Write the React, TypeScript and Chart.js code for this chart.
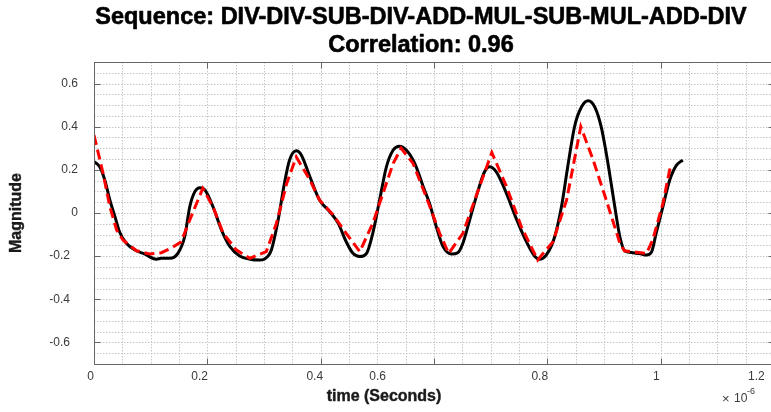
import React, { useEffect, useRef } from "react";
import { Chart, registerables } from "chart.js";

Chart.register(...registerables);

const titleLines = ["Sequence: DIV-DIV-SUB-DIV-ADD-MUL-SUB-MUL-ADD-DIV", "Correlation: 0.96"];
const xAxisTitle = "time (Seconds)";
const yAxisTitle = "Magnitude";
const xExponentBase = "10";
const xExponent = "-6";

// black solid curve (time in 1e-6 s)
const measuredX = [
  0, 0.010, 0.019, 0.028, 0.037, 0.045, 0.057, 0.075, 0.089, 0.110, 0.119, 0.134, 0.148, 0.160, 0.169,
  0.178, 0.187, 0.196, 0.210, 0.225, 0.240, 0.257, 0.275, 0.292, 0.301, 0.313, 0.325, 0.336, 0.345, 0.357,
  0.366, 0.381, 0.398, 0.416, 0.431, 0.445, 0.457, 0.469, 0.481, 0.492, 0.504, 0.516, 0.528, 0.539, 0.551,
  0.566, 0.581, 0.592, 0.604, 0.616, 0.631, 0.642, 0.651, 0.663, 0.678, 0.689, 0.698, 0.710, 0.728, 0.745,
  0.763, 0.778, 0.786, 0.798, 0.813, 0.825, 0.836, 0.848, 0.860, 0.872, 0.884, 0.895, 0.907, 0.919, 0.928,
  0.937, 0.951, 0.966, 0.975, 0.984, 0.992, 1.004, 1.016, 1.028, 1.039,
];
const measuredY = [
  0.238, 0.214, 0.153, 0.060, -0.017, -0.087, -0.140, -0.175, -0.190, -0.214, -0.210, -0.210, -0.187, -0.110, 0.029,
  0.099, 0.117, 0.106, 0.029, -0.079, -0.156, -0.199, -0.214, -0.218, -0.213, -0.171, -0.032, 0.137, 0.245, 0.288,
  0.268, 0.168, 0.060, 0.006, -0.048, -0.133, -0.187, -0.202, -0.187, -0.094, 0.060, 0.214, 0.292, 0.310, 0.292,
  0.230, 0.122, 0.045, -0.063, -0.156, -0.190, -0.184, -0.140, -0.032, 0.106, 0.190, 0.214, 0.190, 0.090, -0.025,
  -0.133, -0.202, -0.214, -0.195, -0.110, 0.030, 0.214, 0.400, 0.490, 0.520, 0.490, 0.400, 0.230, 0.030, -0.110,
  -0.176, -0.184, -0.190, -0.195, -0.180, -0.094, 0.030, 0.153, 0.222, 0.245,
];

// red dashed curve
const predictedX = [
  0, 0.016, 0.028, 0.040, 0.051, 0.075, 0.098, 0.119, 0.139, 0.154, 0.169, 0.192, 0.210, 0.228, 0.251,
  0.275, 0.304, 0.322, 0.340, 0.357, 0.381, 0.398, 0.422, 0.445, 0.469, 0.492, 0.510, 0.528, 0.542, 0.563,
  0.587, 0.610, 0.626, 0.651, 0.675, 0.702, 0.728, 0.754, 0.783, 0.810, 0.834, 0.859, 0.881, 0.904, 0.928,
  0.936, 0.957, 0.975, 0.986, 1.004, 1.017,
];
const predictedY = [
  0.361, 0.184, 0.029, -0.079, -0.125, -0.175, -0.190, -0.184, -0.159, -0.133, -0.032, 0.114, 0.029, -0.094, -0.171,
  -0.210, -0.179, -0.048, 0.137, 0.260, 0.153, 0.060, -0.009, -0.094, -0.179, -0.048, 0.091, 0.230, 0.300, 0.230,
  0.070, -0.094, -0.187, -0.094, 0.083, 0.280, 0.122, -0.063, -0.218, -0.133, 0.060, 0.400, 0.245, 0.060, -0.140,
  -0.175, -0.182, -0.187, -0.125, 0.045, 0.214,
];

const xMin = 0;
const xMax = 1.2;
const yMin = -0.7;
const yMax = 0.7;
const gridStep = 0.05;
const xTickValues = [0, 0.2, 0.4, 0.6, 0.8, 1.0, 1.2];
const xTickLabels = ["0", "0.2", "0.4", "0.6", "0.8", "1", "1.2"];
const xTickLabelAt = [-0.006, 0.1865, 0.3895, 0.5006, 0.7866, 0.9924, 1.169];
const yTickValues = [-0.6, -0.4, -0.2, 0, 0.2, 0.4, 0.6];
const yTickLabels = ["-0.6", "-0.4", "-0.2", "0", "0.2", "0.4", "0.6"];

const FONT = '"Liberation Sans", Arial, Helvetica, sans-serif';
const AXIS_COLOR = "#666666";
const TEXT_COLOR = "#3a3a3a";

function heavyText(ctx: CanvasRenderingContext2D, text: string, x: number, y: number, w: number) {
  ctx.fillText(text, x, y);
  ctx.lineWidth = w;
  ctx.lineJoin = "round";
  ctx.strokeStyle = ctx.fillStyle as string;
  ctx.strokeText(text, x, y);
}

const matlabAxes = {
  id: "matlabAxes",
  beforeDatasetsDraw(chart: any) {
    const { ctx, chartArea: a, scales } = chart;
    const xs = scales.x;
    const ys = scales.y;
    ctx.save();
    ctx.strokeStyle = "#c6c6c6";
    ctx.lineWidth = 1;
    ctx.setLineDash([1.5, 1.5]);
    const nx = Math.round((xMax - xMin) / gridStep);
    for (let i = 1; i < nx; i++) {
      const px = Math.round(xs.getPixelForValue(xMin + i * gridStep)) + 0.5;
      ctx.beginPath();
      ctx.moveTo(px, a.top);
      ctx.lineTo(px, a.bottom);
      ctx.stroke();
    }
    const ny = Math.round((yMax - yMin) / gridStep);
    for (let i = 1; i < ny; i++) {
      const py = Math.round(ys.getPixelForValue(yMin + i * gridStep)) + 0.5;
      ctx.beginPath();
      ctx.moveTo(a.left, py);
      ctx.lineTo(a.right, py);
      ctx.stroke();
    }
    ctx.restore();
  },
  afterDraw(chart: any) {
    const { ctx, chartArea: a, scales } = chart;
    const xs = scales.x;
    const ys = scales.y;
    ctx.save();
    ctx.setLineDash([]);
    ctx.strokeStyle = AXIS_COLOR;
    ctx.lineWidth = 1;
    const L = Math.round(a.left) + 0.5;
    const R = Math.round(a.right) + 0.5;
    const T = Math.round(a.top) + 0.5;
    const B = Math.round(a.bottom) + 0.5;
    ctx.strokeRect(L, T, R - L, B - T);
    const tl = 6;
    ctx.beginPath();
    xTickValues.forEach((v) => {
      const px = Math.round(xs.getPixelForValue(v)) + 0.5;
      ctx.moveTo(px, B);
      ctx.lineTo(px, B - tl);
      ctx.moveTo(px, T);
      ctx.lineTo(px, T + tl);
    });
    yTickValues.forEach((v) => {
      const py = Math.round(ys.getPixelForValue(v)) + 0.5;
      ctx.moveTo(L, py);
      ctx.lineTo(L + tl, py);
      ctx.moveTo(R, py);
      ctx.lineTo(R - tl, py);
    });
    ctx.stroke();

    // tick labels
    ctx.fillStyle = TEXT_COLOR;
    ctx.font = `12px ${FONT}`;
    ctx.textAlign = "center";
    ctx.textBaseline = "middle";
    xTickLabels.forEach((t, i) => {
      ctx.fillText(t, xs.getPixelForValue(xTickLabelAt[i]), a.bottom + 13);
    });
    ctx.textAlign = "right";
    yTickLabels.forEach((t, i) => {
      const v = yTickValues[i];
      const right = v < 0 ? a.left - 24 : a.left - 16;
      ctx.fillText(t, right, ys.getPixelForValue(v));
    });

    // exponent
    ctx.textAlign = "left";
    ctx.textBaseline = "alphabetic";
    ctx.font = `13px ${FONT}`;
    ctx.fillText("\u00d7", a.right - 52, a.bottom + 39);
    ctx.font = `12px ${FONT}`;
    ctx.fillText(xExponentBase, a.right - 40, a.bottom + 38);
    ctx.font = `9px ${FONT}`;
    ctx.fillText(xExponent, a.right - 27, a.bottom + 30);

    // axis titles
    ctx.fillStyle = "#1a1a1a";
    ctx.font = `bold 16px ${FONT}`;
    ctx.textAlign = "center";
    ctx.textBaseline = "middle";
    heavyText(ctx, xAxisTitle, 384, a.bottom + 33, 0.4);
    ctx.save();
    ctx.translate(17, (a.top + a.bottom) / 2);
    ctx.rotate(-Math.PI / 2);
    heavyText(ctx, yAxisTitle, 0, 0, 0.4);
    ctx.restore();

    // title
    ctx.fillStyle = "#000000";
    ctx.font = `bold 23.5px ${FONT}`;
    ctx.textBaseline = "alphabetic";
    heavyText(ctx, titleLines[0], 421, 24, 0.6);
    heavyText(ctx, titleLines[1], 421, 52, 0.6);
    ctx.restore();
  },
};

export default function App() {
  const ref = useRef<HTMLCanvasElement | null>(null);
  useEffect(() => {
    if (!ref.current) return;
    const chart = new Chart(ref.current, {
      type: "line",
      data: {
        datasets: [
          {
            label: "predicted",
            data: predictedX.map((x, i) => ({ x, y: predictedY[i] })),
            borderColor: "#ff0000",
            borderWidth: 3,
            borderDash: [10, 5],
            pointRadius: 0,
            tension: 0,
            fill: false,
          },
          {
            label: "measured",
            data: measuredX.map((x, i) => ({ x, y: measuredY[i] })),
            borderColor: "#000000",
            borderWidth: 3,
            borderJoinStyle: "round",
            pointRadius: 0,
            cubicInterpolationMode: "monotone",
            fill: false,
          },
        ],
      },
      options: {
        responsive: false,
        animation: false,
        events: [],
        layout: { padding: { left: 94, top: 62, right: 6, bottom: 48 } },
        plugins: { legend: { display: false }, tooltip: { enabled: false }, title: { display: false } },
        scales: {
          x: { type: "linear", display: false, min: xMin, max: xMax },
          y: { type: "linear", display: false, min: yMin, max: yMax },
        },
      },
      plugins: [matlabAxes],
    });
    return () => chart.destroy();
  }, []);
  return (
    <div
      style={{
        position: "fixed",
        left: 0,
        top: 0,
        width: 771,
        height: 412,
        overflow: "hidden",
        background: "#ffffff",
      }}
    >
      <canvas ref={ref} width={780} height={412} style={{ display: "block" }} />
    </div>
  );
}
